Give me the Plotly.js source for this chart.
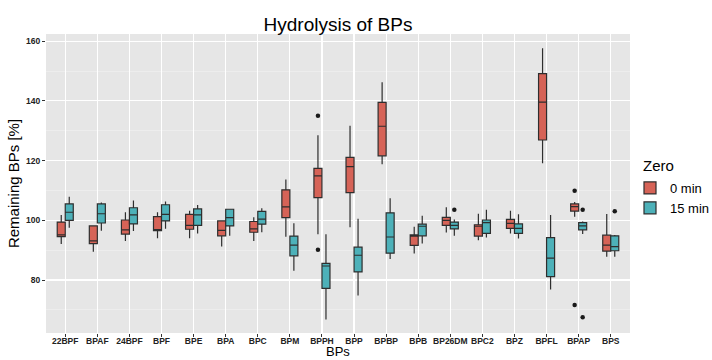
<!DOCTYPE html>
<html>
<head>
<meta charset="utf-8">
<script src="https://cdn.plot.ly/plotly-3.0.1.min.js"></script>
<style>
  html, body { margin: 0; padding: 0; background: #ffffff; }
  #chart { width: 712px; height: 360px; }
</style>
</head>
<body>
<div id="chart"></div>
<script>
// Bisphenol compounds on the x axis
const categories = ['22BPF','BPAF','24BPF','BPF','BPE','BPA','BPC','BPM','BPPH','BPP','BPBP','BPB','BP26DM','BPC2','BPZ','BPFL','BPAP','BPS'];

// Box statistics, 0 min
const low0    = [92.1, 89.5, 93.1, 94.0, 94.0, 91.2, 93.1, 94.5,  95.3,  97.7, 118.8, 88.9,  95.9, 93.3, 95.6, 119.1, 101.2, 87.8];
const q1_0    = [94.5, 92.2, 95.4, 96.5, 97.0, 94.8, 96.0, 100.9, 107.6, 109.3, 121.6, 91.6,  98.3, 94.7, 97.3, 126.9, 103.1, 89.7];
const median0 = [95.1, 93.1, 96.8, 96.9, 98.3, 96.6, 97.1, 104.5, 114.9, 118.0, 131.5, 94.7, 100.0, 98.0, 99.0, 139.6, 104.6, 91.7];
const q3_0    = [99.4, 98.1, 100.1, 101.2, 102.0, 99.8, 99.6, 110.2, 117.4, 121.1, 139.5, 95.1, 101.0, 98.5, 100.3, 149.1, 105.5, 95.0];
const high0   = [101.8, 98.3, 102.7, 102.7, 103.2, 100.0, 101.0, 113.7, 128.5, 131.7, 146.2, 97.8, 104.4, 102.2, 103.2, 157.6, 106.1, 102.1];

// Box statistics, 15 min
const low15    = [97.5, 96.5, 96.4, 97.2, 95.6, 94.8, 96.0, 83.1, 66.8, 74.8, 87.0, 92.2, 94.8, 94.2, 93.9, 76.8, 95.4, 87.8];
const q1_15    = [100.0, 99.1, 98.8, 99.8, 98.3, 98.1, 98.7, 88.1, 77.2, 82.7, 89.0, 94.8, 97.1, 95.6, 95.6, 81.1, 96.8, 89.8];
const median15 = [102.7, 102.2, 101.8, 102.0, 101.8, 100.9, 100.4, 91.7, 84.7, 88.3, 94.4, 98.0, 98.3, 99.2, 97.3, 87.3, 98.1, 91.2];
const q3_15    = [105.5, 105.5, 104.2, 105.2, 103.8, 103.7, 103.0, 94.7, 85.6, 91.0, 102.5, 98.7, 99.4, 100.1, 98.8, 94.2, 99.2, 94.8];
const high15   = [107.9, 106.0, 106.6, 106.3, 105.1, 103.8, 104.0, 99.0, 95.3, 100.5, 107.4, 101.5, 100.3, 103.5, 102.0, 101.8, 99.6, 95.1];

// Outlying observations
const outCat0  = ['BPPH', 'BPPH', 'BPAP', 'BPAP'];
const outVal0  = [135.0, 90.1, 109.9, 71.6];
const outCat15 = ['BP26DM', 'BPAP', 'BPAP', 'BPS'];
const outVal15 = [103.5, 103.5, 67.5, 103.0];

const groupNames = ['0 min', '15 min'];
const fills = ['rgb(214,99,87)', 'rgb(77,177,185)'];
const edge = '#2e2e2e';
const font = '"Liberation Sans", Arial, Helvetica, sans-serif';

function boxTrace(name, fill, lo, q1, med, q3, hi) {
  return {
    type: 'box', name: name, x: categories,
    lowerfence: lo, q1: q1, median: med, q3: q3, upperfence: hi,
    boxpoints: false, whiskerwidth: 0,
    fillcolor: fill, line: { color: edge, width: 1.2 },
    hoverinfo: 'skip'
  };
}
function outlierTrace(cats, vals) {
  return {
    type: 'scatter', mode: 'markers', x: cats, y: vals,
    marker: { color: '#1a1a1a', size: 4.5 }, showlegend: false, hoverinfo: 'skip'
  };
}

const data = [
  boxTrace(groupNames[0], fills[0], low0, q1_0, median0, q3_0, high0),
  boxTrace(groupNames[1], fills[1], low15, q1_15, median15, q3_15, high15),
  outlierTrace(outCat0, outVal0),
  outlierTrace(outCat15, outVal15)
];

// plot area spans x 46..640 and y 34..333 in pixels
const plotLeft = 46, plotTop = 34, plotW = 594, plotH = 299;

const layout = {
  width: 712, height: 360,
  margin: { l: plotLeft, r: 712 - plotLeft - plotW, t: plotTop, b: 360 - plotTop - plotH },
  paper_bgcolor: '#ffffff', plot_bgcolor: '#E6E6E6',
  font: { family: font, color: '#000' },
  boxmode: 'group', boxgap: 0.5, boxgroupgap: 0,
  scattermode: 'group', scattergap: 0.5,
  title: {
    text: 'Hydrolysis of BPs', font: { size: 19, color: '#000' },
    x: 0.5, xref: 'paper', xanchor: 'center',
    y: 1 - 24 / 360, yref: 'container', yanchor: 'middle'
  },
  xaxis: {
    type: 'category', categoryorder: 'array', categoryarray: categories,
    range: [-0.6, 17.6],
    showgrid: true, gridcolor: '#ffffff', gridwidth: 1.1,
    zeroline: false, showline: false,
    ticks: 'outside', ticklen: 3, tickcolor: '#333', tickwidth: 1,
    ticklabelstandoff: -3,
    tickfont: { size: 8.5, color: '#222', family: font, weight: 'bold' }
  },
  yaxis: {
    range: [62.25, 162.4],
    tickmode: 'linear', tick0: 0, dtick: 20,
    showgrid: true, gridcolor: '#ffffff', gridwidth: 1.1,
    minor: { tickmode: 'linear', tick0: 0, dtick: 10, showgrid: true, gridcolor: '#f4f4f4', gridwidth: 0.5, ticks: '' },
    zeroline: false, showline: false,
    ticks: 'outside', ticklen: 3, tickcolor: '#333', tickwidth: 1,
    tickfont: { size: 8.5, color: '#222', family: font, weight: 'bold' },
    title: { text: 'Remaining BPs [%]', font: { size: 15, color: '#000' }, standoff: 2 }
  },
  showlegend: true,
  legend: {
    font: { size: 13, color: '#000' },
    xref: 'container', x: 630 / 712, xanchor: 'left',
    yref: 'container', y: 1 - 173 / 360, yanchor: 'top',
    bgcolor: 'rgba(0,0,0,0)', itemwidth: 30, tracegroupgap: 0
  },
  annotations: [
    {
      // legend heading
      text: 'Zero', font: { size: 15, color: '#000' }, showarrow: false,
      xref: 'paper', x: (651 - plotLeft) / plotW, xanchor: 'left',
      yref: 'paper', y: 1 - (166 - plotTop) / plotH, yanchor: 'middle'
    },
    {
      // x axis heading
      text: 'BPs', font: { size: 13, color: '#000' }, showarrow: false,
      xref: 'paper', x: 0.5, xanchor: 'center',
      yref: 'paper', y: -(360 - plotTop - plotH) / plotH, yanchor: 'bottom',
      borderpad: 0
    }
  ]
};

Plotly.newPlot('chart', data, layout, { staticPlot: true, displayModeBar: false });
</script>
</body>
</html>
